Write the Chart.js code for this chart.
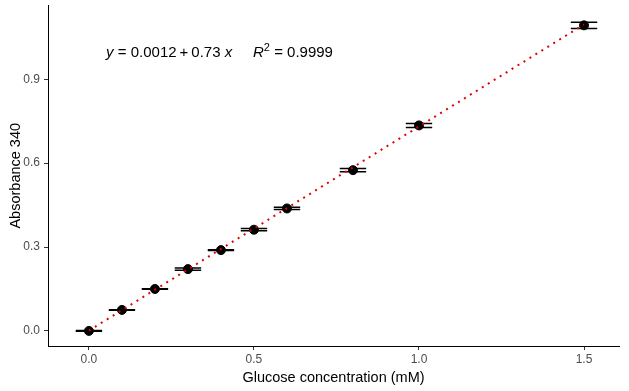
<!DOCTYPE html>
<html lang="en">
<head>
  <meta charset="UTF-8" />
  <title>Glucose Standard Curve</title>
  <script src="https://cdn.jsdelivr.net/npm/chart.js"></script>
  <style>
    html, body { margin: 0; padding: 0; background: #fff; }
    #wrap { width: 629px; height: 391px; }
  </style>
</head>
<body>
  <div id="wrap"><canvas id="curveChart" width="629" height="391"></canvas></div>

  <script>
    // values
    const concentration = [0, 0.1, 0.2, 0.3, 0.4, 0.5, 0.6, 0.8, 1.0, 1.5];
    const absorbance = [0.000, 0.075, 0.150, 0.221, 0.289, 0.362, 0.438, 0.575, 0.735, 1.093];
    const absorbanceSd = [0.001, 0.001, 0.001, 0.004, 0.001, 0.004, 0.004, 0.006, 0.007, 0.011];
    const fitX = [0, 1.5];
    const fitY = [0.0012, 1.0962];
    const xTicks = [0, 0.5, 1.0, 1.5];
    const yTicks = [0, 0.3, 0.6, 0.9];

    const whiskerHalf = 0.04;
    const whiskers = [];
    concentration.forEach((c, i) => {
      [1, -1].forEach(sign => {
        const y = absorbance[i] + sign * absorbanceSd[i];
        whiskers.push({ x: c - whiskerHalf, y: y });
        whiskers.push({ x: c + whiskerHalf, y: y });
        whiskers.push({ x: c, y: null });
      });
    });

    const equationLabel = {
      id: 'equationLabel',
      afterDraw(chart) {
        const ctx = chart.ctx;
        const x0 = chart.scales.x.getPixelForValue(0.052);
        const y0 = chart.scales.y.getPixelForValue(0.979);
        const fam = '"Liberation Sans", Arial, sans-serif';
        const parts = [
          { t: 'y', f: 'italic 15px ' + fam },
          { t: ' = 0.0012\u2009+\u20090.73 ', f: '15px ' + fam },
          { t: 'x', f: 'italic 15px ' + fam },
          { t: '     ', f: '15px ' + fam },
          { t: 'R', f: 'italic 15px ' + fam },
          { t: '2', f: '11px ' + fam, up: 6 },
          { t: ' = 0.9999', f: '15px ' + fam }
        ];
        ctx.save();
        ctx.fillStyle = '#000';
        ctx.textBaseline = 'alphabetic';
        ctx.textAlign = 'left';
        let x = x0;
        parts.forEach(p => {
          ctx.font = p.f;
          ctx.fillText(p.t, x, y0 - (p.up || 0));
          x += ctx.measureText(p.t).width;
        });
        ctx.restore();
      }
    };

    const noEdgePad = s => {
      s.paddingTop = 0; s.paddingBottom = 0;
      s.paddingLeft = 0; s.paddingRight = 0;
    };

    const ctx = document.getElementById('curveChart').getContext('2d');
    new Chart(ctx, {
      type: 'scatter',
      data: {
        datasets: [
          {
            label: 'fit',
            type: 'line',
            data: fitX.map((x, i) => ({ x: x, y: fitY[i] })),
            borderColor: '#e00000',
            borderWidth: 2,
            borderDash: [2, 5],
            pointRadius: 0,
            fill: false,
            tension: 0,
            order: 0
          },
          {
            label: 'mean',
            data: concentration.map((x, i) => ({ x: x, y: absorbance[i] })),
            backgroundColor: '#000',
            borderColor: '#000',
            borderWidth: 1,
            pointRadius: 4.5,
            order: 1
          },
          {
            label: 'sd',
            type: 'line',
            data: whiskers,
            borderColor: '#000',
            borderWidth: 1.5,
            pointRadius: 0,
            spanGaps: false,
            fill: false,
            order: 2
          }
        ]
      },
      options: {
        responsive: false,
        animation: false,
        layout: { padding: { top: 5, right: 10, left: 0, bottom: 0 } },
        plugins: {
          legend: { display: false },
          tooltip: { enabled: false }
        },
        scales: {
          x: {
            type: 'linear',
            min: -0.124,
            max: 1.606,
            afterFit: s => { s.height = 45; noEdgePad(s); },
            afterBuildTicks: s => { s.ticks = xTicks.map(v => ({ value: v })); },
            grid: { drawOnChartArea: false, drawTicks: true, tickLength: 4, color: '#333' },
            border: { color: '#000', width: 1 },
            ticks: {
              padding: 2,
              color: '#4d4d4d',
              font: { family: '"Liberation Sans", Arial, sans-serif', size: 12 },
              callback: v => Number(v).toFixed(1)
            },
            title: {
              display: true,
              text: 'Glucose concentration (mM)',
              color: '#000',
              padding: { top: 0, bottom: 4 },
              font: { family: '"Liberation Sans", Arial, sans-serif', size: 14.5 }
            }
          },
          y: {
            type: 'linear',
            min: -0.054,
            max: 1.164,
            afterFit: s => { s.width = 48; noEdgePad(s); },
            afterBuildTicks: s => { s.ticks = yTicks.map(v => ({ value: v })); },
            grid: { drawOnChartArea: false, drawTicks: true, tickLength: 4, color: '#333' },
            border: { color: '#000', width: 1 },
            ticks: {
              padding: 4,
              color: '#4d4d4d',
              font: { family: '"Liberation Sans", Arial, sans-serif', size: 12 },
              callback: v => Number(v).toFixed(1)
            },
            title: {
              display: true,
              text: 'Absorbance 340',
              color: '#000',
              padding: { top: 7, bottom: 0 },
              font: { family: '"Liberation Sans", Arial, sans-serif', size: 14.5 }
            }
          }
        }
      },
      plugins: [equationLabel]
    });
  </script>
</body>
</html>
